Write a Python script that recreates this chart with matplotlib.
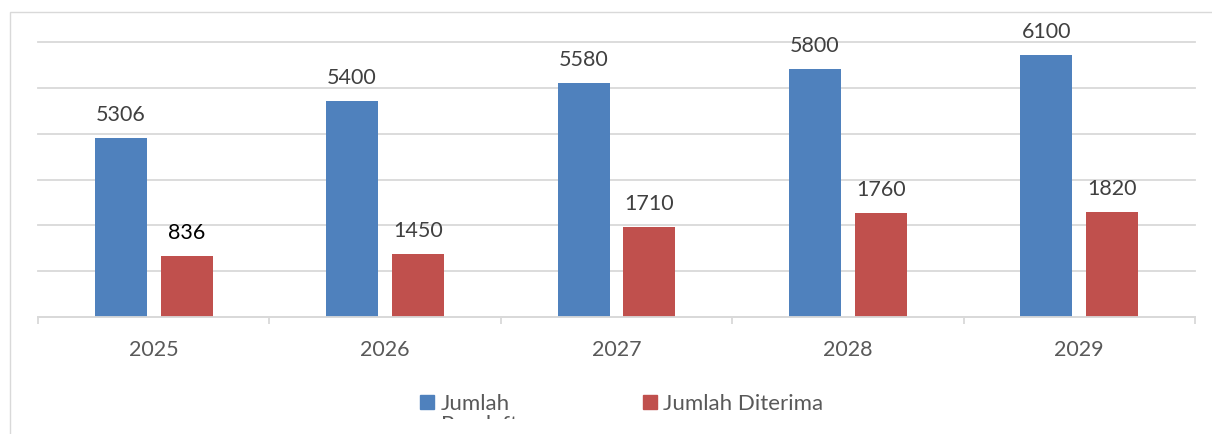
import numpy as np
import matplotlib
matplotlib.use('Agg')
import matplotlib.pyplot as plt
from matplotlib.patches import Rectangle
from matplotlib.transforms import Bbox

plt.rcParams['font.family'] = ['Lato', 'DejaVu Sans']

tahun = ['2025', '2026', '2027', '2028', '2029']
pendaftar = [5306, 5400, 5580, 5800, 6100]
diterima = [836, 1450, 1710, 1760, 1820]
# bar heights as they are drawn in the source (grid step = 1000),
# they do not follow the printed labels
tinggi_pendaftar = [3910, 4710, 5110, 5410, 5710]
tinggi_diterima = [1340, 1380, 1970, 2280, 2290]

biru = '#4f81bd'
merah = '#c0504d'
abu = '#d9d9d9'

W, H = 1212, 434
fig = plt.figure(figsize=(W / 100, H / 100), dpi=100)
ax = fig.add_axes([38 / W, 1 - 317.3 / H, 1157 / W, 275.6 / H])

x = np.arange(len(tahun))
lebar = 0.2247
geser = 0.1426
ax.bar(x - geser, tinggi_pendaftar, lebar, color=biru, zorder=2)
ax.bar(x + geser, tinggi_diterima, lebar, color=merah, zorder=2)

ax.set_xlim(-0.5, len(tahun) - 0.5)
ax.set_ylim(0, 6000)
ax.set_yticks(np.arange(0, 7000, 1000))
ax.yaxis.grid(True, color=abu, lw=1.3)
for g in ax.get_ygridlines():
    g.set_clip_on(False)
ax.set_axisbelow(True)
ax.tick_params(axis='y', length=0, labelleft=False)

for s in ['top', 'right', 'left']:
    ax.spines[s].set_visible(False)
ax.spines['bottom'].set_color(abu)
ax.spines['bottom'].set_linewidth(1.3)

ax.set_xticks(np.arange(-0.5, len(tahun)), [''] * (len(tahun) + 1))
ax.tick_params(axis='x', which='major', length=5, width=1.3, color=abu)
ax.set_xticks(x, tahun, minor=True)
ax.tick_params(axis='x', which='minor', length=0, pad=16.5,
               labelsize=15.5, labelcolor='#595959')

for xi, h, v in zip(x, tinggi_pendaftar, pendaftar):
    ax.annotate(str(v), (xi - geser, h), xytext=(0, 12.2), textcoords='offset points',
                ha='center', va='baseline', fontsize=15.5, color='#404040',
                annotation_clip=False)
for xi, h, v in zip(x, tinggi_diterima, diterima):
    warna = '#000000' if v == 836 else '#404040'
    ax.annotate(str(v), (xi + geser, h), xytext=(0, 12.2), textcoords='offset points',
                ha='center', va='baseline', fontsize=15.5, color=warna,
                annotation_clip=False)

# chart frame (only left and top edges fall inside the picture)
fig.add_artist(Rectangle((9.5 / W, -0.1), 1.2, 1 - 12 / H + 0.1,
                         transform=fig.transFigure, fill=False,
                         edgecolor=abu, lw=1))

# legend
fig.add_artist(Rectangle((420 / W, 1 - 409 / H), 14 / W, 14 / H,
                         transform=fig.transFigure, color=biru))
fig.add_artist(Rectangle((643 / W, 1 - 409 / H), 14 / W, 14 / H,
                         transform=fig.transFigure, color=merah))
fig.text(441 / W, 1 - 410 / H, 'Jumlah', va='baseline', fontsize=16, color='#595959')
t2 = fig.text(441 / W, 1 - 431 / H, 'Pendaftar', va='baseline', fontsize=16,
              color='#595959', clip_on=True)
t2.set_clip_box(Bbox([[0, H - 418.5], [W, H]]))
fig.text(663 / W, 1 - 410 / H, 'Jumlah Diterima', va='baseline', fontsize=16,
         color='#595959')

fig.savefig('out.png', dpi=100)
